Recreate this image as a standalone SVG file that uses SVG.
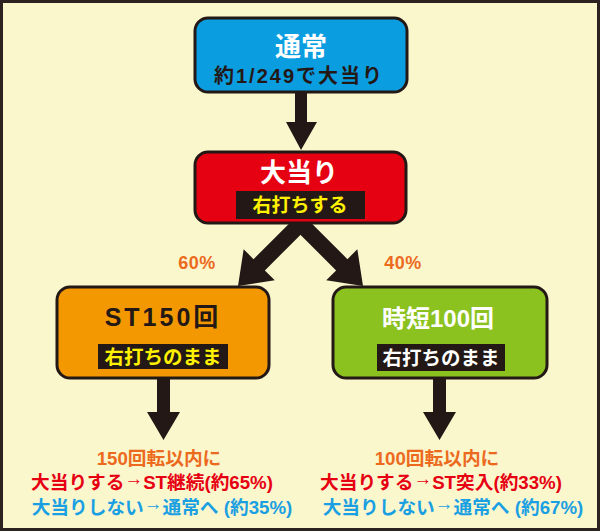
<svg xmlns="http://www.w3.org/2000/svg" width="600" height="531" viewBox="0 0 600 531">
<defs>
<style>
text{font-family:"Liberation Sans","Noto Sans CJK JP",sans-serif;font-weight:bold;text-anchor:middle;dominant-baseline:central}
.box{stroke:#231815;stroke-width:3}
.band{fill:#231815}
.arrow{fill:#231815}
.pct{fill:#ec6a1e;font-size:18px;letter-spacing:0.5px}
.res{font-size:18.7px}
.ar{baseline-shift:4px}
.or{fill:#ec6a1e}.rd{fill:#e60012}.bl{fill:#1aa0e2}
</style>
</defs>
<rect x="1.5" y="1.5" width="597" height="528" fill="#fbf7cd" stroke="#2b2320" stroke-width="3"/>
<g id="connectors">
<polygon class="arrow" points="295,92 307,92 307,122 317,122 301,150 286,122 295,122"/>
<g transform="translate(238,286) rotate(45)">
<polygon class="arrow" points="0,0 -22,-30 -8,-30 -8,-100 8,-100 8,-30 22,-30"/>
</g>
<g transform="translate(363,286) rotate(-45)">
<polygon class="arrow" points="0,0 -22,-30 -8,-30 -8,-100 8,-100 8,-30 22,-30"/>
</g>
<polygon class="arrow" points="157,378 170,378 170,412 180,412 163.5,440 147,412 157,412"/>
<polygon class="arrow" points="433,378 446,378 446,412 456,412 439.5,440 423,412 433,412"/>
</g>
<g id="node-normal">
<rect class="box" x="195" y="18" width="212" height="74" rx="13" fill="#0a9de0"/>
<text x="301" y="47" font-size="26" fill="#fff">通常</text>
<text x="299" y="76" font-size="20" letter-spacing="2" fill="#231815">約1/249で大当り</text>
</g>
<g id="node-bigwin">
<rect class="box" x="195" y="152" width="211" height="71" rx="13" fill="#e50012"/>
<text x="299" y="173" font-size="26" fill="#fff">大当り</text>
<rect class="band" x="236" y="191" width="129" height="28"/>
<text x="300" y="205" font-size="19" fill="#fff100">右打ちする</text>
</g>
<text class="pct" x="197" y="263">60%</text>
<text class="pct" x="403" y="263">40%</text>
<g id="node-st">
<rect class="box" x="57" y="287" width="212" height="91" rx="13" fill="#f39800"/>
<text x="163" y="317" font-size="25" fill="#231815" letter-spacing="3">ST150回</text>
<rect class="band" x="98" y="344" width="130" height="25"/>
<text x="163" y="356.5" font-size="19.5" fill="#fff100">右打ちのまま</text>
</g>
<g id="node-jitan">
<rect class="box" x="333" y="287" width="214" height="91" rx="13" fill="#8cc220"/>
<text x="438" y="318" font-size="24" fill="#fff">時短100回</text>
<rect class="band" x="377" y="344" width="128" height="27"/>
<text x="441" y="357.5" font-size="19.5" fill="#fff">右打ちのまま</text>
</g>
<g id="result-st">
<text class="res or" x="159" y="458">150回転以内に</text>
<text class="res rd" x="152" y="482">大当りする<tspan class="ar">→</tspan>ST継続(約65%)</text>
<text class="res bl" x="162" y="507">大当りしない<tspan class="ar">→</tspan>通常へ (約35%)</text>
</g>
<g id="result-jitan">
<text class="res or" x="437" y="458">100回転以内に</text>
<text class="res rd" x="441" y="482">大当りする<tspan class="ar">→</tspan>ST突入(約33%)</text>
<text class="res bl" x="453" y="507">大当りしない<tspan class="ar">→</tspan>通常へ (約67%)</text>
</g>
</svg>
